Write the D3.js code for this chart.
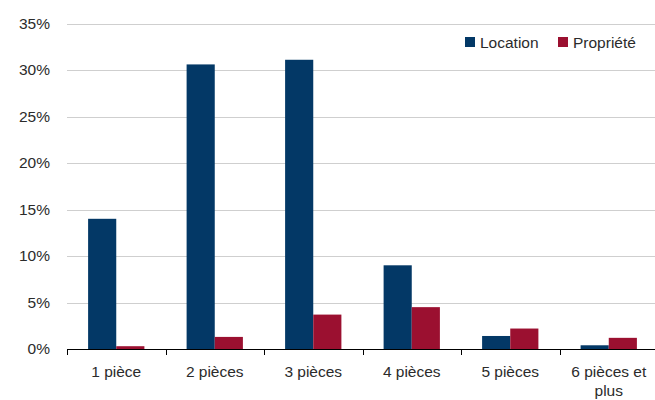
<!DOCTYPE html>
<html>
<head>
<meta charset="utf-8">
<script src="https://cdn.jsdelivr.net/npm/d3@7"></script>
<style>
  html, body { margin: 0; padding: 0; background: #fff; }
  svg text { font-family: "Liberation Sans", Arial, sans-serif; fill: #2b2b2b; }
</style>
</head>
<body>
<svg id="chart" width="655" height="400"></svg>
<script>
// Répartition des logements selon le nombre de pièces (%)
const categories = ["1 pièce", "2 pièces", "3 pièces", "4 pièces", "5 pièces", "6 pièces et plus"];
const seriesNames = ["Location", "Propriété"];
const locationValues = [14.0, 30.6, 31.1, 9.0, 1.4, 0.4];
const proprieteValues = [0.3, 1.3, 3.7, 4.5, 2.2, 1.2];
const yTicks = [0, 5, 10, 15, 20, 25, 30, 35];
const colors = ["#033866", "#9b1030"];

const data = categories.map((c, i) => ({ cat: c, values: [locationValues[i], proprieteValues[i]] }));

const svg = d3.select("#chart");
const plotLeft = 67, plotBottom = 349, plotTop = 23.5, bandW = 98.5;

const x = d3.scaleBand().domain(categories).range([plotLeft, plotLeft + bandW * categories.length]).padding(0);
const xs = d3.scaleBand().domain(seriesNames).range([0, x.bandwidth()]).paddingInner(0).paddingOuter(0.75);
const y = d3.scaleLinear().domain([0, 35]).range([plotBottom, plotTop]);

// gridlines
svg.append("g")
  .selectAll("line")
  .data(yTicks.filter(t => t > 0))
  .join("line")
  .attr("x1", plotLeft).attr("x2", 655)
  .attr("y1", d => Math.round(y(d)) + 0.5).attr("y2", d => Math.round(y(d)) + 0.5)
  .attr("stroke", "#cfcfcf").attr("stroke-width", 1);

// y axis labels
const yAxis = d3.axisLeft(y).tickValues(yTicks).tickFormat(d => d + "%").tickSize(0).tickPadding(17);
const gy = svg.append("g").attr("transform", `translate(${plotLeft},0)`).call(yAxis);
gy.select(".domain").remove();
gy.selectAll("text").attr("font-size", 15.5).style("font-family", "'Liberation Sans', Arial, sans-serif").attr("fill", "#2b2b2b");

// bars
const groups = svg.append("g").selectAll("g")
  .data(data).join("g")
  .attr("transform", d => `translate(${x(d.cat)},0)`);
groups.selectAll("rect")
  .data(d => d.values.map((v, i) => ({ key: seriesNames[i], v, i })))
  .join("rect")
  .attr("x", d => xs(d.key))
  .attr("width", xs.bandwidth())
  .attr("y", d => y(d.v))
  .attr("height", d => y(0) - y(d.v))
  .attr("fill", d => colors[d.i]);

// x axis line and ticks at category boundaries
const gx = svg.append("g");
gx.append("line")
  .attr("x1", plotLeft).attr("x2", 655)
  .attr("y1", plotBottom + 0.5).attr("y2", plotBottom + 0.5)
  .attr("stroke", "#000").attr("stroke-width", 1.2);
gx.selectAll("line.tick")
  .data(categories)
  .join("line")
  .attr("class", "tick")
  .attr("x1", d => Math.round(x(d)) + 0.5).attr("x2", d => Math.round(x(d)) + 0.5)
  .attr("y1", plotBottom).attr("y2", plotBottom + 6)
  .attr("stroke", "#000").attr("stroke-width", 1);

// category labels (the last one wraps onto two lines)
const labelLines = c => c === "6 pièces et plus" ? ["6 pièces et", "plus"] : [c];
gx.selectAll("text.cat")
  .data(categories)
  .join("text")
  .attr("class", "cat")
  .attr("text-anchor", "middle")
  .attr("font-size", 15.5)
  .each(function (d) {
    const t = d3.select(this);
    labelLines(d).forEach((ln, k) => {
      t.append("tspan")
        .attr("x", x(d) + x.bandwidth() / 2)
        .attr("y", 377 + k * 19)
        .text(ln);
    });
  });

// legend
const legend = svg.append("g");
const legendX = [465, 558];
seriesNames.forEach((s, i) => {
  legend.append("rect")
    .attr("x", legendX[i]).attr("y", 37)
    .attr("width", 10).attr("height", 10)
    .attr("fill", colors[i]);
  legend.append("text")
    .attr("x", legendX[i] + 15).attr("y", 47.5)
    .attr("font-size", 15.5)
    .text(s);
});
</script>
</body>
</html>
